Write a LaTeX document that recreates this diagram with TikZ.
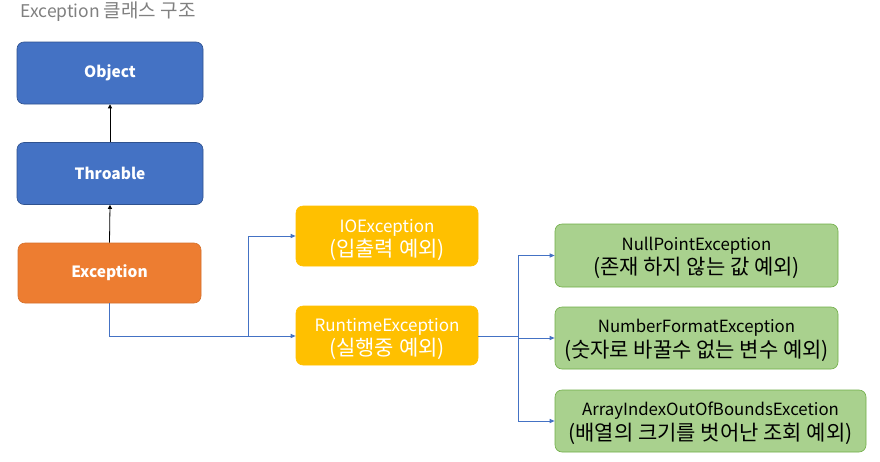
\documentclass[tikz,border=0pt]{standalone}
\usepackage{fontspec}
\setmainfont{Noto Sans CJK KR}
\usetikzlibrary{arrows.meta}
\definecolor{objblue}{HTML}{4472C4}
\definecolor{objborder}{HTML}{2F528F}
\definecolor{excorange}{HTML}{ED7D31}
\definecolor{ioyellow}{HTML}{FFC000}
\definecolor{grfill}{HTML}{A9D18E}
\definecolor{grborder}{HTML}{70AD47}
\definecolor{linkblue}{HTML}{4472C4}
\definecolor{titlegray}{HTML}{808080}
\newcommand{\krline}[1]{{\fontsize{21}{23}\selectfont #1}}
\newcommand{\twoline}[3]{\raisebox{#1}[\height][\depth]{\begin{tabular}{@{}c@{}}#2\\\krline{#3}\end{tabular}}}
\begin{document}
\begin{tikzpicture}[x=1pt,y=-1pt,
  box/.style={rounded corners=7pt, line width=0.6pt, inner sep=0pt, align=center},
  bluebox/.style={box, fill=objblue, draw=objborder, text=white, font=\fontsize{15.5}{18}\selectfont\bfseries},
  orangebox/.style={box, fill=excorange, draw=excorange!90!black, text=white, font=\fontsize{15.5}{18}\selectfont\bfseries},
  yellowbox/.style={box, fill=ioyellow, draw=ioyellow, text=white, font=\fontsize{17}{22}\selectfont},
  greenbox/.style={box, fill=grfill, draw=grborder, text=black, font=\fontsize{16.8}{24}\selectfont},
  blackarrow/.style={draw=black, line width=0.8pt, -{Triangle[length=4pt,width=4pt]}},
  bluearrow/.style={draw=linkblue, line width=0.9pt, -{Triangle[length=5pt,width=4pt]}},
  blueline/.style={draw=linkblue, line width=0.9pt}]
\useasboundingbox (0,0) rectangle (880,461);
\fill[white] (0,0) rectangle (880,461);
\node[anchor=west, text=titlegray, font=\fontsize{17.5}{20}\selectfont] (title) at (17,12) {Exception {\fontsize{19}{20}\selectfont 클래스 구조}};

\node[bluebox, minimum width=186pt, minimum height=62pt] (object) at (110,73) {Object};
\node[bluebox, minimum width=186pt, minimum height=62pt] (throable) at (110,173.5) {Throable};
\node[orangebox, minimum width=183pt, minimum height=60pt] (exception) at (109.5,273) {Exception};

\node[yellowbox, minimum width=182pt, minimum height=60pt] (ioexc) at (387,236) {\twoline{-4pt}{IOException}{(입출력 예외)}};
\node[yellowbox, minimum width=182pt, minimum height=59pt] (rtexc) at (387,335.5) {\twoline{-4pt}{RuntimeException}{(실행중 예외)}};

\node[greenbox, minimum width=283pt, minimum height=63pt] (npe) at (696.5,255.5) {\twoline{-2pt}{NullPointException}{(존재 하지 않는 값 예외)}};
\node[greenbox, minimum width=283pt, minimum height=62pt] (nfe) at (696.5,338) {\twoline{-2pt}{NumberFormatException}{(숫자로 바꿀수 없는 변수 예외)}};
\node[greenbox, minimum width=311pt, minimum height=62pt] (aioobe) at (710.5,421) {\twoline{-2pt}{ArrayIndexOutOfBoundsExcetion}{(배열의 크기를 벗어난 조회 예외)}};

\draw[blackarrow] (throable.north) -- (object.south);
\draw[blackarrow] (exception.north) -- (throable.south);

\coordinate (jA) at (248,336);
\coordinate (jB) at (518,336);
\draw[blueline] (exception.south) |- (jA);
\draw[bluearrow] (jA) -- (jA -| rtexc.west);
\draw[bluearrow] (jA) |- (ioexc.west);
\draw[blueline] (rtexc.east |- jB) -- (jB);
\draw[bluearrow] (jB) |- (npe.west);
\draw[bluearrow] (jB) |- (nfe.west);
\draw[bluearrow] (jB) |- (aioobe.west);
\end{tikzpicture}
\end{document}
